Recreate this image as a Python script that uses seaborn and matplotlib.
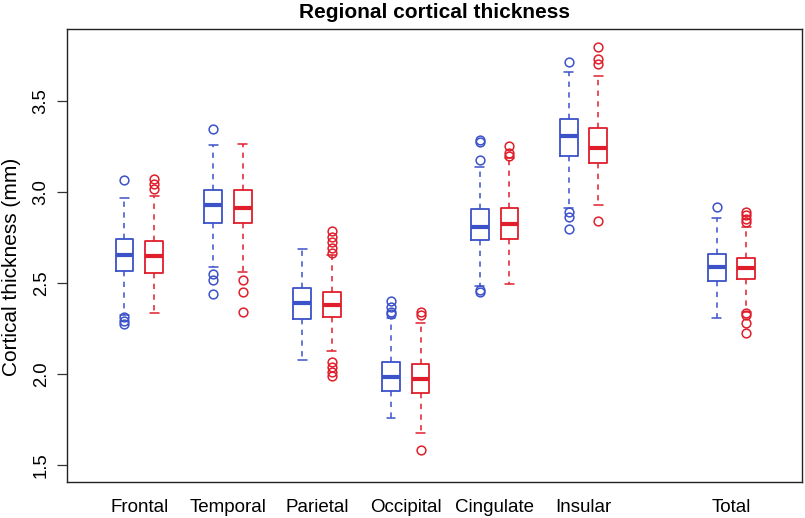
""" Regional cortical thickness boxplots """

import matplotlib
matplotlib.use("Agg")
import matplotlib.pyplot as plt
import seaborn as sns

# Region names and box positions (two groups per region, Total set apart)
regions = ["Frontal", "Temporal", "Parietal", "Occipital", "Cingulate", "Insular", "Total"]
blue_pos = [1, 4, 7, 10, 13, 16, 21]
red_pos = [2, 5, 8, 11, 14, 17, 22]

# Group 1 (blue) box statistics
blue_whislo = [2.325, 2.588, 2.075, 1.755, 2.482, 2.909, 2.308]
blue_q1 = [2.566, 2.828, 2.299, 1.905, 2.735, 3.198, 2.511]
blue_med = [2.652, 2.925, 2.387, 1.983, 2.808, 3.308, 2.585]
blue_q3 = [2.740, 3.009, 2.469, 2.066, 2.905, 3.399, 2.658]
blue_whishi = [2.967, 3.257, 2.685, 2.304, 3.137, 3.659, 2.854]
blue_fliers = [
    [3.063, 2.31, 2.29, 2.272],
    [3.345, 2.548, 2.513, 2.438],
    [],
    [2.399, 2.368, 2.341, 2.326],
    [3.283, 3.275, 3.174, 2.462, 2.448],
    [3.711, 2.89, 2.859, 2.793],
    [2.918],
]

# Group 2 (red) box statistics
red_whislo = [2.335, 2.560, 2.126, 1.676, 2.495, 2.927, 2.341]
red_q1 = [2.555, 2.826, 2.313, 1.892, 2.738, 3.159, 2.520]
red_med = [2.647, 2.912, 2.377, 1.969, 2.821, 3.242, 2.579]
red_q3 = [2.729, 3.009, 2.447, 2.053, 2.909, 3.348, 2.637]
red_whishi = [2.976, 3.260, 2.652, 2.280, 3.183, 3.637, 2.808]
red_fliers = [
    [3.072, 3.043, 3.013],
    [2.515, 2.447, 2.337],
    [2.786, 2.753, 2.722, 2.692, 2.662, 2.066, 2.038, 2.011, 1.99],
    [2.341, 2.322, 1.581],
    [3.251, 3.211, 3.196],
    [3.797, 3.729, 3.702, 2.839],
    [2.89, 2.872, 2.85, 2.835, 2.332, 2.322, 2.28, 2.225],
]

blue = "#3B52C9"
red = "#E01E2B"


def make_stats(lo, q1, med, q3, hi, fl):
    return [dict(whislo=a, q1=b, med=c, q3=d, whishi=e, fliers=f)
            for a, b, c, d, e, f in zip(lo, q1, med, q3, hi, fl)]


sns.set_style("white")
plt.rcParams["font.family"] = ["Liberation Sans", "DejaVu Sans"]
plt.rcParams["text.color"] = "black"
plt.rcParams["xtick.color"] = "black"
plt.rcParams["ytick.color"] = "black"
plt.rcParams["axes.labelcolor"] = "black"

fig = plt.figure(figsize=(8.05, 5.18), dpi=100)
ax = fig.add_axes([67 / 805, 1 - 482 / 518, 735 / 805, 453 / 518])

for stats, pos, col in [
    (make_stats(blue_whislo, blue_q1, blue_med, blue_q3, blue_whishi, blue_fliers), blue_pos, blue),
    (make_stats(red_whislo, red_q1, red_med, red_q3, red_whishi, red_fliers), red_pos, red),
]:
    ax.bxp(stats, positions=pos, widths=0.6, showfliers=True,
           boxprops=dict(color=col, linewidth=1.3),
           medianprops=dict(color=col, linewidth=3, solid_capstyle="butt"),
           whiskerprops=dict(color=col, linewidth=1.1, linestyle=(0, (3.5, 3.5))),
           capprops=dict(color=col, linewidth=1.1),
           capwidths=0.3,
           flierprops=dict(marker="o", markerfacecolor="none", markeredgecolor=col,
                           markersize=6.3, markeredgewidth=1.1))

ax.set_xlim(-0.94, 23.88)
ax.set_ylim(1.405, 3.894)

# ticks at each box, labels centred under each pair
ax.set_xticks(blue_pos + red_pos, minor=True)
ax.set_xticks([(b + r) / 2 for b, r in zip(blue_pos, red_pos)], regions)
ax.tick_params(axis="x", which="minor", length=7.5, width=0.9, color="#333333")
ax.tick_params(axis="x", which="major", length=0, pad=12, labelsize=13.5)
ax.set_yticks([1.5, 2.0, 2.5, 3.0, 3.5])
ax.set_yticklabels(["1.5", "2.0", "2.5", "3.0", "3.5"], rotation=90, va="center")
ax.tick_params(axis="y", length=7.5, width=0.9, color="#333333", pad=5, labelsize=13.3, left=True)

for s in ax.spines.values():
    s.set_color("#222222")
    s.set_linewidth(1.0)

ax.set_ylabel("Cortical thickness (mm)", fontsize=15)
ax.yaxis.set_label_coords(-0.062, 0.475)
fig.text(434 / 805, 1 - 12 / 518, "Regional cortical thickness", ha="center", va="center",
         fontsize=15, fontweight="bold")

fig.savefig("out.png", dpi=100)
